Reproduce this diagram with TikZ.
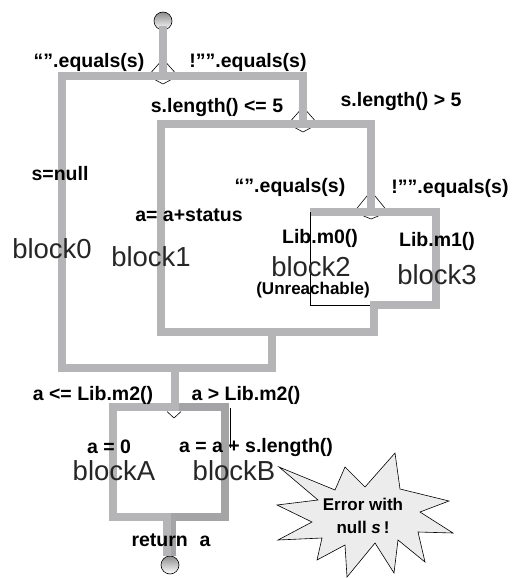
\documentclass[tikz,border=0pt]{standalone}
\usepackage{fontspec}
\setmainfont{Liberation Sans}
\definecolor{flowA}{HTML}{B5B5B7}
\definecolor{flowB}{HTML}{A4A4A6}
\definecolor{starfill}{HTML}{ECECEC}
\begin{document}
\begin{tikzpicture}[x=1pt,y=-1pt,
  flow/.style={draw=flowA,line width=8.5pt,line join=miter,line cap=rect},
  flowdark/.style={flow,draw=flowB},
  thin/.style={draw=black,line width=0.6pt},
  cond/.style={font=\fontsize{19.5}{22}\selectfont\bfseries,inner sep=0pt,anchor=center},
  small/.style={font=\fontsize{17}{20}\selectfont\bfseries,inner sep=0pt,anchor=center},
  blk/.style={font=\fontsize{27.5}{30}\selectfont,inner sep=0pt,anchor=center,text=black!85},
  term/.style={circle,draw=black,line width=0.6pt,minimum size=18pt,inner sep=0pt,top color=black!45,bottom color=white}
]
\useasboundingbox[fill=white] (0,0) rectangle (513,578);

% junction / corner coordinates
\coordinate (j1) at (163,76);
\coordinate (j2) at (303,124);
\coordinate (j3) at (371,212);
\coordinate (m1) at (272,332);
\coordinate (m2) at (272,368);
\coordinate (j4) at (175,407);

% decision diamonds (partly hidden by the flow lines)
\draw[thin] (148,76) -- (163,59) -- (178,76) -- (163,84) -- cycle;
\draw[thin] (288,124) -- (303,107) -- (318,124) -- (303,132) -- cycle;
\draw[thin] (354,212) -- (371,191) -- (388,212) -- (371,219) -- cycle;
\draw[thin] (167,411.5) -- (174,418) -- (181,411.5);

% terminals
\node[term] (start) at (163,21) {};
\node[term] (stop) at (170,565) {};

% flow lines
\draw[flow] (start.south) -- (j1);
\draw[flow] (j1) -- (62,76) -- (62,368) -- (m2);
\draw[flow] (j1) -- (303,76) -- (j2);
\draw[flow] (j2) -- (161,124) -- (161,332) -- (m1) -- (m2);
\draw[flow] (j2) -- (371,124) -- (j3);
\draw[flow] (j3) -- (436,212) -- (436,305) -- (374,305) -- (374,332) -- (m1);
\draw[flow,line cap=butt] (j3) -- (310,212);
\draw[thin] (310,212) -- (310,305) -- (370,305);
\draw[flow] (m2) -- (175,368) -- (j4);
% blockA / blockB box (two paths side by side)
\draw[flowdark,line cap=butt] (j4) -- (225,407) -- (225,517) -- (172,517) -- (172,556);
\draw[flow,line cap=butt] (175,368) -- (j4) -- (113,407) -- (113,517) -- (167,517) -- (167,556);
\draw[thin] (230,408) -- (230,448);

% star
\draw[thin,fill=starfill] (279,467) -- (335,490) -- (345,467) -- (365,487) -- (395,453)
  -- (400,489) -- (449,501) -- (420,512) -- (453,533) -- (418,532) -- (425,562)
  -- (398,540) -- (394,573) -- (375,543) -- (347,577) -- (345,545) -- (317,560)
  -- (322,538) -- (278,540) -- (312,522) -- (277,505) -- (318,500) -- cycle;
\node[small,align=center,font=\fontsize{17}{23}\selectfont\bfseries] (err) at (363,516) {Error with\\null \textit{s}\,!};

% labels
\node[cond] (t1) at (89,62) {“”.equals(s)};
\node[cond] (t2) at (248,62) {!””.equals(s)};
\node[cond] (t3) at (217,108) {s.length() <= 5};
\node[cond] (t4) at (401,102) {s.length() > 5};
\node[cond] (t5) at (60,174) {s=null};
\node[cond] (t6) at (290,187) {“”.equals(s)};
\node[cond] (t7) at (450,188) {!””.equals(s)};
\node[cond] (t8) at (189,215) {a= a+status};
\node[blk] (b0) at (52,249) {block0};
\node[blk] (b1) at (151,257) {block1};
\node[cond] (t9) at (320,238) {Lib.m0()};
\node[blk] (b2) at (311,267) {block2};
\node[small] (un) at (313,290) {(Unreachable)};
\node[cond] (t10) at (437,241) {Lib.m1()};
\node[blk] (b3) at (437,275) {block3};
\node[cond] (t11) at (93,395) {a <= Lib.m2()};
\node[cond] (t12) at (246,395) {a > Lib.m2()};
\node[cond] (t13) at (109,447) {a = 0};
\node[cond] (t14) at (256,447) {a = a + s.length()};
\node[blk] (bA) at (114,471) {blockA};
\node[blk] (bB) at (234,471) {blockB};
\node[cond] (ret) at (171,540) {return\hspace{0.6em}a};
\end{tikzpicture}
\end{document}
